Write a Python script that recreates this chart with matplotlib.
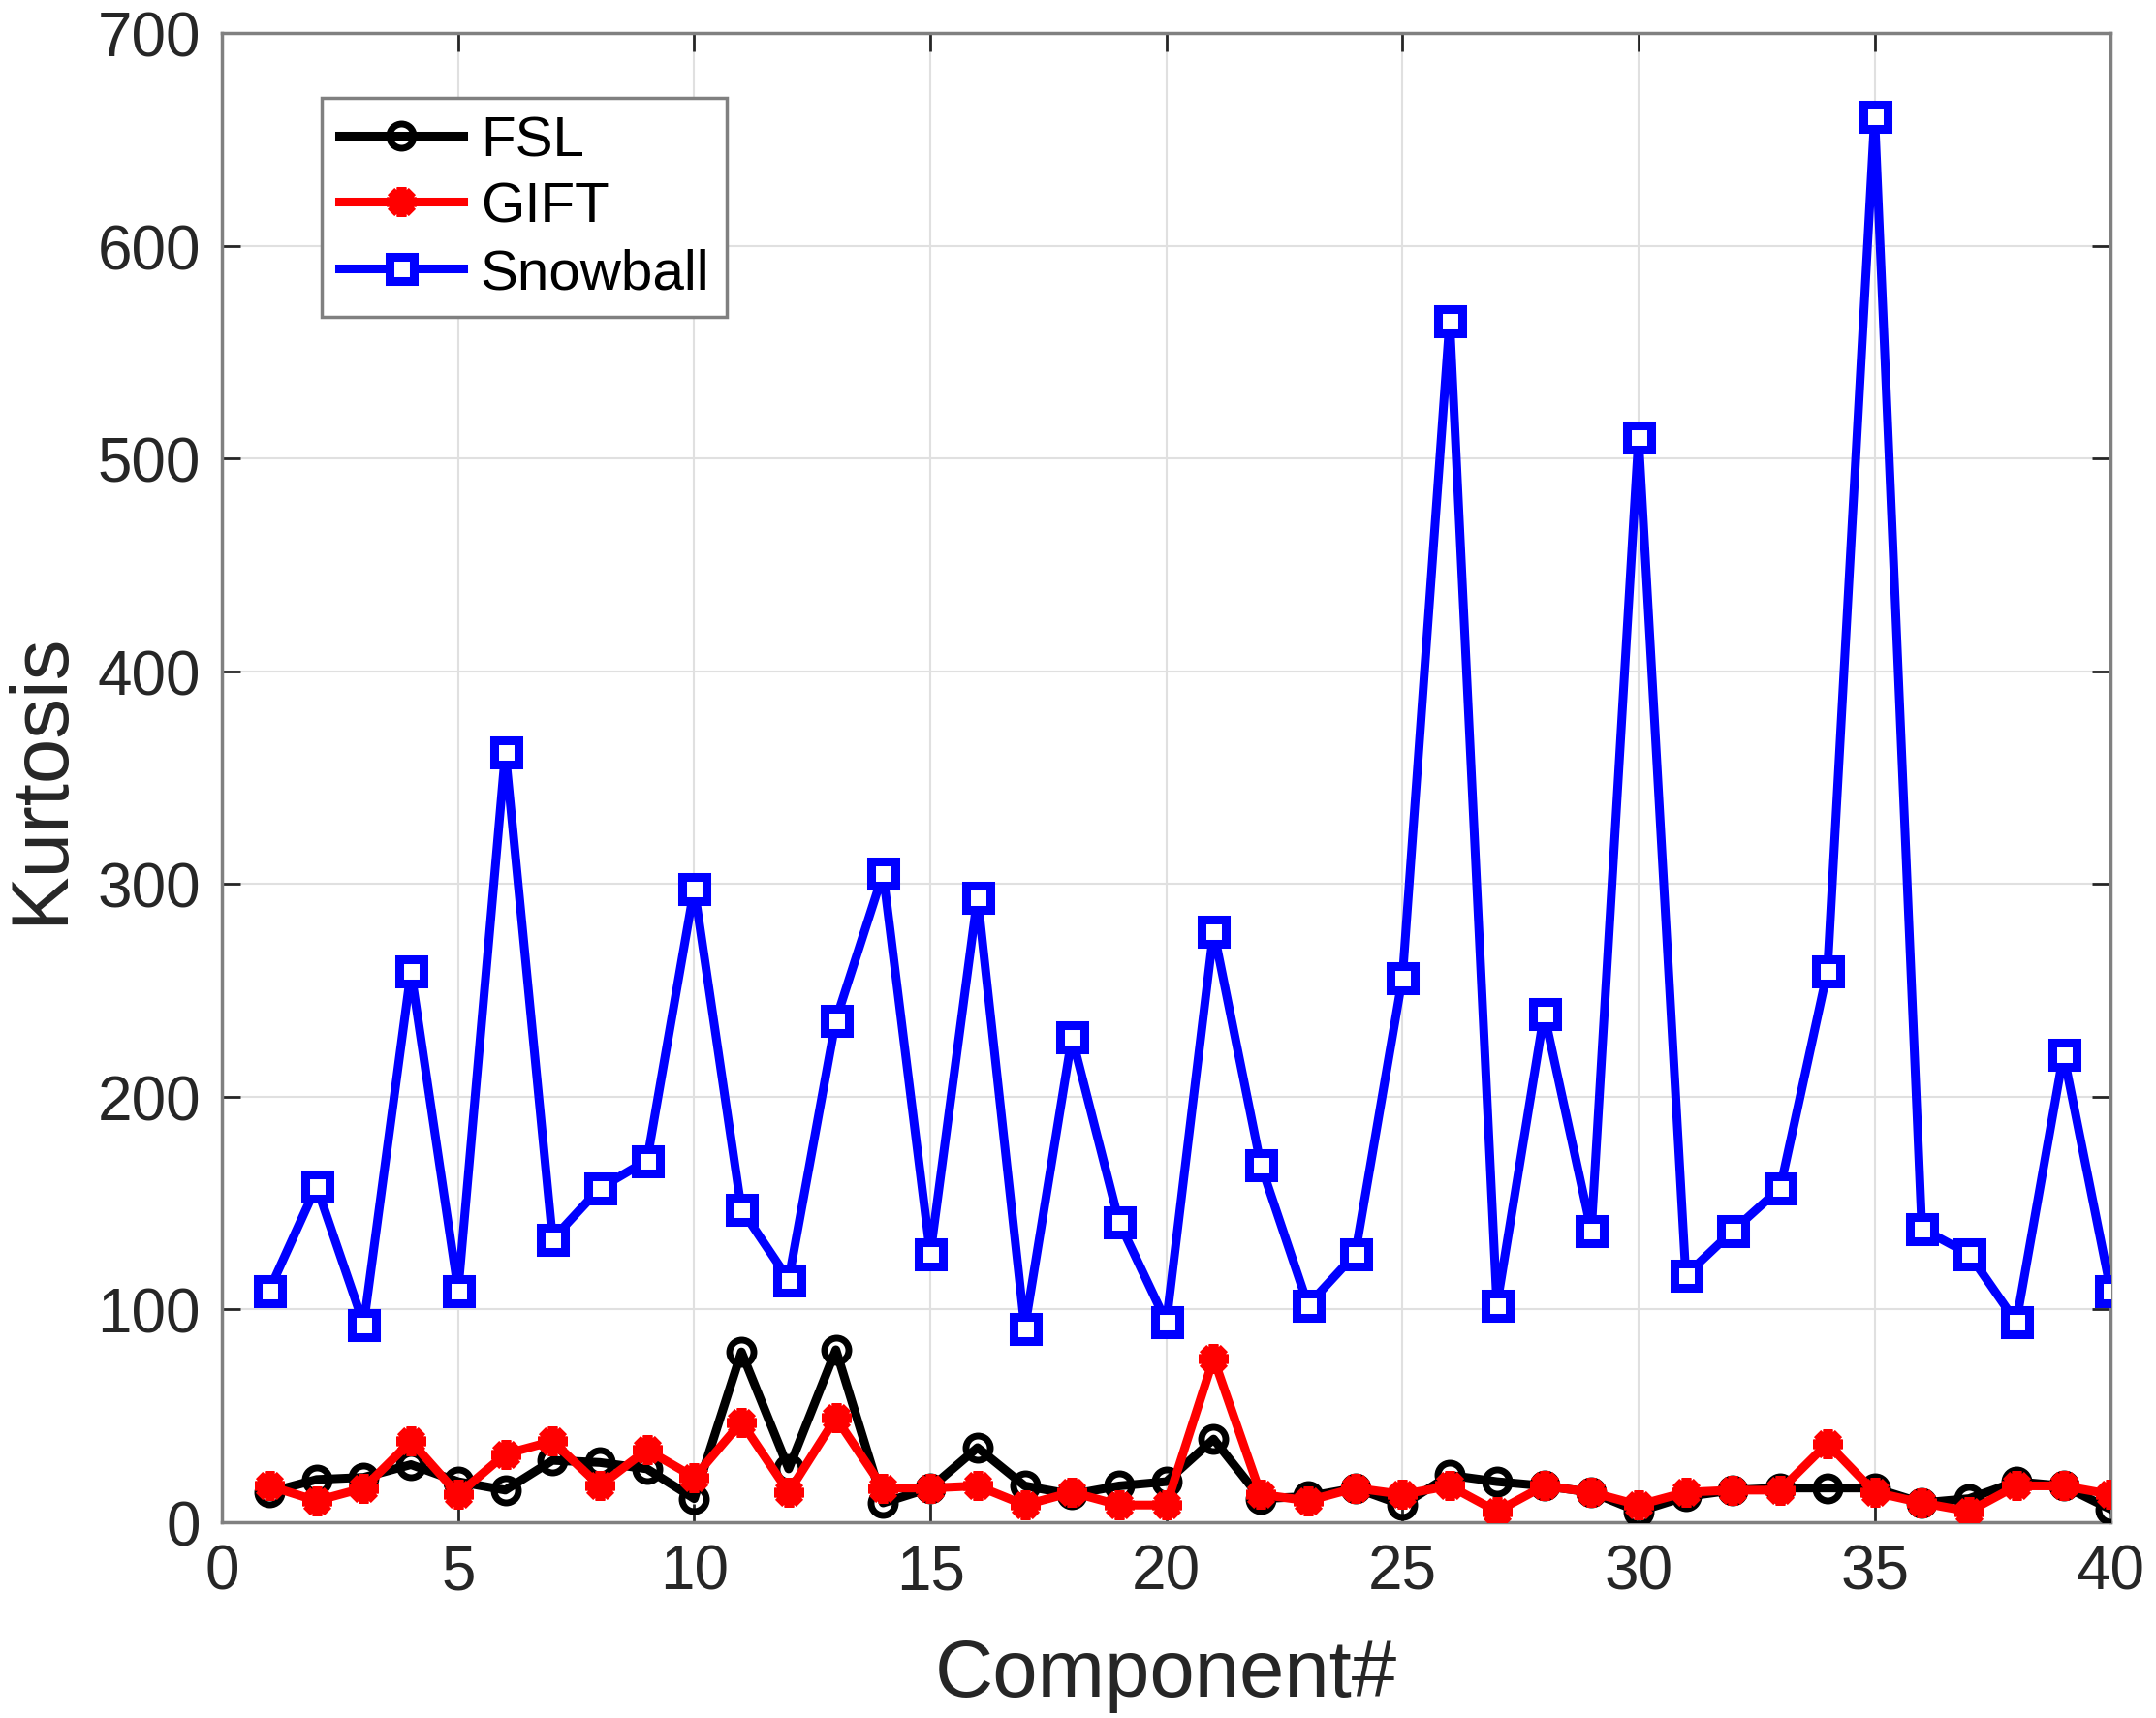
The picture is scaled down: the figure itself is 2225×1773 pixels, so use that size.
import numpy as np
import matplotlib
matplotlib.use('Agg')
import matplotlib.pyplot as plt

# valori
componenti = np.arange(1, 41)
fsl = [14, 20, 21, 27, 19, 15, 29, 28, 25, 11,
       80, 25, 81, 9, 16, 35, 17, 13, 17, 19,
       39, 11, 12, 16, 8, 22, 19, 17, 14, 5,
       12, 15, 16, 16, 16, 9, 11, 19, 17, 6]
gift = [17, 10, 16, 38, 13, 32, 38, 17, 34, 21,
        47, 14, 49, 16, 16, 17, 8, 14, 8, 8,
        77, 13, 10, 16, 13, 17, 5, 17, 14, 8,
        14, 15, 15, 37, 14, 9, 5, 17, 17, 13]
snowball = [109, 158, 93, 259, 109, 362, 133, 157, 170, 298,
            147, 114, 236, 305, 126, 294, 91, 228, 141, 94,
            278, 168, 102, 126, 256, 565, 102, 239, 137, 510,
            116, 137, 157, 259, 661, 138, 126, 94, 220, 109]

plt.rcParams['font.family'] = ['Liberation Sans', 'DejaVu Sans']

fig = plt.figure(figsize=(22.25, 17.74), dpi=100)
ax = fig.add_axes([0.103, 0.114, 0.876, 0.866])

lw = 6.5
ax.plot(componenti, fsl, color='black', lw=lw, marker='o', ms=18,
        mfc='none', mec='black', mew=5, label='FSL', zorder=3)
ax.plot(componenti, gift, color='red', lw=lw, marker=(8, 2, 0), ms=22,
        mfc='red', mec='red', mew=7, label='GIFT', zorder=4)
ax.plot(componenti, snowball, color='blue', lw=lw, marker='s', ms=18,
        mfc='white', mec='blue', mew=6.5, label='Snowball', zorder=5)

ax.set_xlim(0, 40)
ax.set_ylim(0, 700)
ax.set_xticks(np.arange(0, 41, 5))
ax.set_yticks(np.arange(0, 701, 100))
ax.grid(True, color='#e0e0e0', lw=1.5)
ax.set_axisbelow(True)
for s in ax.spines.values():
    s.set_color('#808080')
    s.set_linewidth(2.5)
ax.tick_params(direction='in', length=14, width=2, colors='#262626',
               labelsize=46, top=True, right=True, pad=16)
ax.set_xlabel('Component#', fontsize=60, color='#262626', labelpad=26)
ax.set_ylabel('Kurtosis', fontsize=60, color='#262626', labelpad=14)

leg = ax.legend(loc='upper left', bbox_to_anchor=(0.053, 0.957), borderaxespad=0,
                fontsize=42, fancybox=False, framealpha=1, edgecolor='#808080',
                handlelength=2.2, borderpad=0.3, labelspacing=0.25,
                handletextpad=0.3)
leg.get_frame().set_linewidth(2.5)

plt.savefig('out.png', dpi=100)
